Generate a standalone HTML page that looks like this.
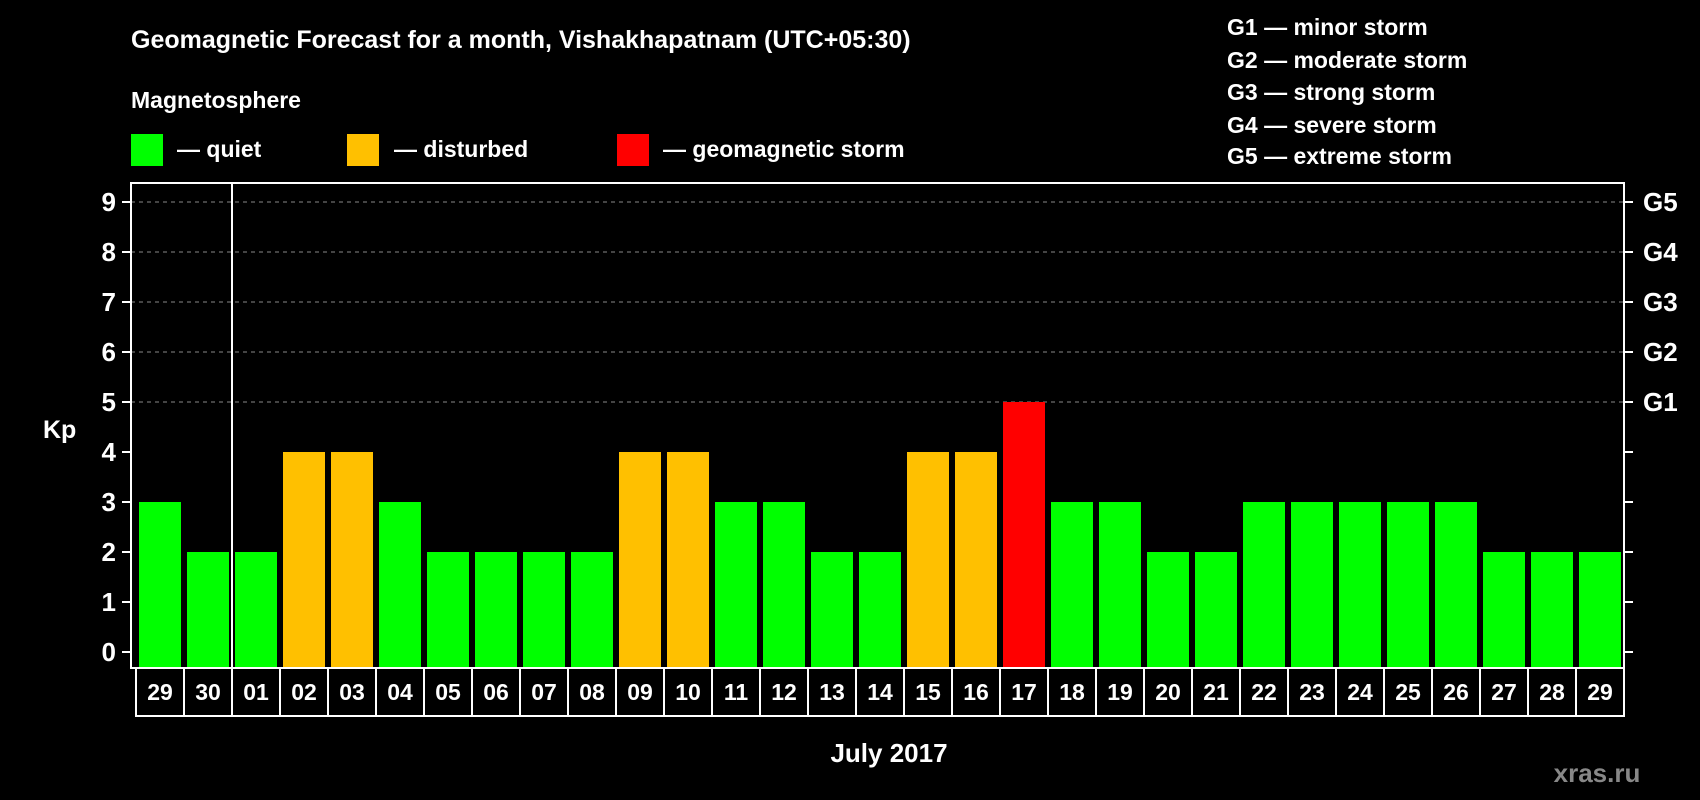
<!DOCTYPE html>
<html><head><meta charset="utf-8"><style>
html,body{margin:0;padding:0;background:#000;width:1700px;height:800px;overflow:hidden}
svg{display:block}
text{font-family:"Liberation Sans",Arial,sans-serif;font-weight:bold;fill:#fff}
</style></head><body>
<svg id="c" width="1700" height="800" viewBox="0 0 1700 800">
<text x="131" y="48" font-size="25">Geomagnetic Forecast for a month, Vishakhapatnam (UTC+05:30)</text>
<text x="131" y="108" font-size="23">Magnetosphere</text>
<rect x="131" y="134" width="32" height="32" fill="#00ff00"/>
<text x="177" y="157" font-size="23">— quiet</text>
<rect x="347" y="134" width="32" height="32" fill="#ffc000"/>
<text x="394" y="157" font-size="23">— disturbed</text>
<rect x="617" y="134" width="32" height="32" fill="#ff0000"/>
<text x="663" y="157" font-size="23">— geomagnetic storm</text>
<g font-size="23">
<text x="1227" y="35">G1 — minor storm</text>
<text x="1227" y="68">G2 — moderate storm</text>
<text x="1227" y="100">G3 — strong storm</text>
<text x="1227" y="133">G4 — severe storm</text>
<text x="1227" y="164">G5 — extreme storm</text>
</g>
<text x="43" y="438" font-size="25">Kp</text>
<text x="889" y="762" font-size="26" text-anchor="middle">July 2017</text>
<text x="1597" y="782" font-size="26" text-anchor="middle" style="fill:#888">xras.ru</text>
<g id="plot"></g>
</svg>
<script>
const categories=["29","30","01","02","03","04","05","06","07","08","09","10","11","12","13","14","15","16","17","18","19","20","21","22","23","24","25","26","27","28","29"];
const kpValues=[3,2,2,4,4,3,2,2,2,2,4,4,3,3,2,2,4,4,5,3,3,2,2,3,3,3,3,3,2,2,2];
const yTicks=[0,1,2,3,4,5,6,7,8,9];
const gLabels=["G1","G2","G3","G4","G5"];
const gLevels=[5,6,7,8,9];
const NS="http://www.w3.org/2000/svg";
const g=document.getElementById('plot');
const L=131,R=1624,T=183,B=668;
const y=v=>652-v*50;
const slot=48,x0=136;
const x=i=>x0+i*slot;
function mk(t,a,p){const e=document.createElementNS(NS,t);for(const k in a)e.setAttribute(k,a[k]);(p||g).appendChild(e);return e;}
yTicks.forEach(v=>{
  if(v>=5){const l=mk('line',{x1:L,x2:R,y1:y(v),y2:y(v),stroke:'#888','stroke-width':1,'stroke-dasharray':'4,4'});
  
  }
  const t1=mk('line',{x1:L-9,x2:L,y1:y(v),y2:y(v),stroke:'#fff','stroke-width':2});
  
  
  const t2=mk('line',{x1:R,x2:R+9,y1:y(v),y2:y(v),stroke:'#fff','stroke-width':2});
  
  
  const tx=mk('text',{x:L-15,y:y(v)+9,'font-size':26,'text-anchor':'end'});
  tx.textContent=v;
  
  
});
gLabels.forEach((s,i)=>{
  const t=mk('text',{x:R+19,y:y(gLevels[i])+9,'font-size':26});
  t.textContent=s;
  
  
});
kpValues.forEach((v,i)=>{
  const col=v>=5?'#ff0000':(v>=4?'#ffc000':'#00ff00');
  const r=mk('rect',{x:x(i)+3,y:y(v),width:42,height:B-y(v),fill:col});
  
  
  const b=mk('rect',{x:x(i),y:B,width:slot,height:48,fill:'none',stroke:'#fff','stroke-width':2});
  
  
  const t=mk('text',{x:x(i)+slot/2,y:B+32,'font-size':23,'text-anchor':'middle'});
  t.textContent=categories[i];
  
  
});
const fr=mk('rect',{x:L,y:T,width:R-L,height:B-T,fill:'none',stroke:'#fff','stroke-width':2});


const sep=mk('line',{x1:x(2),x2:x(2),y1:T,y2:B,stroke:'#fff','stroke-width':2});


</script>
</body></html>
